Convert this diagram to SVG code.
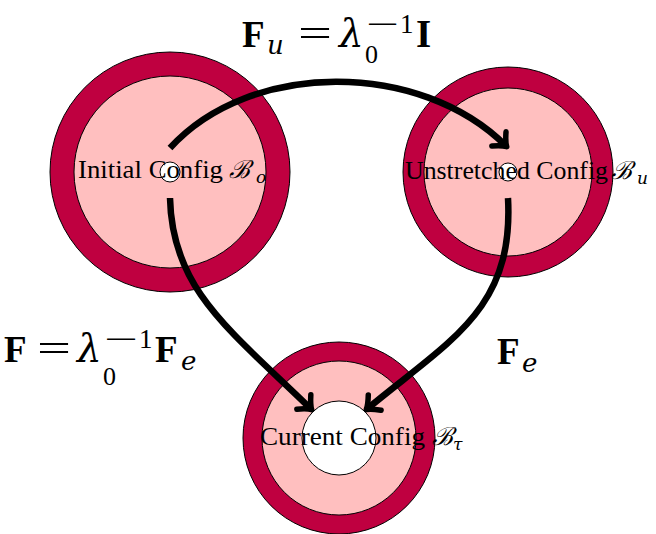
<svg xmlns="http://www.w3.org/2000/svg" width="656" height="534" viewBox="0 0 656 534">
<style>
.ring{fill:#BF0040;stroke:#000;stroke-width:1}
.disk{fill:#FFBFBF;stroke:#000;stroke-width:1}
.hole{fill:#fff;stroke:#000;stroke-width:1}
.lbl{font-family:"Liberation Serif",serif;font-size:25px;fill:#000}
.scr{font-family:"DejaVu Serif","Liberation Serif",serif;font-style:italic}
.m{font-family:"Liberation Serif",serif;font-size:39px;fill:#000}
.sup{font-family:"Liberation Serif",serif;font-size:27px;fill:#000}
.b{font-weight:bold}
.i{font-family:"DejaVu Serif","Liberation Serif",serif;font-style:italic}
.conn{fill:none;stroke:#000;stroke-width:6.5;marker-end:url(#arr)}
</style>
<defs>
<marker id="arr" markerUnits="userSpaceOnUse" viewBox="-14 -14 18 28" refX="0" refY="0" markerWidth="18" markerHeight="28" orient="auto" overflow="visible">
<path d="M-10,-10 Q-3,-2 1,0 Q-3,2 -10,10" fill="none" stroke="#000" stroke-width="5.5" stroke-linecap="round" stroke-linejoin="round"/>
</marker>
</defs>
<rect width="656" height="534" fill="#fff"/>
<g id="node-initial">
<circle class="ring" cx="170" cy="172" r="120"/>
<circle class="disk" cx="170" cy="172" r="96"/>
<circle class="hole" cx="170" cy="172" r="10"/>
<text class="lbl" x="78" y="178"><tspan textLength="145" lengthAdjust="spacingAndGlyphs">Initial Config</tspan><tspan class="scr" x="229" font-size="25">ℬ</tspan><tspan class="i" x="256" y="183" font-size="17">o</tspan></text>
</g>
<g id="node-unstretched">
<circle class="ring" cx="508" cy="172" r="105"/>
<circle class="disk" cx="508" cy="172" r="84"/>
<circle class="hole" cx="508" cy="172" r="9"/>
<text class="lbl" x="405" y="179"><tspan textLength="203" lengthAdjust="spacingAndGlyphs">Unstretched Config</tspan><tspan class="scr" x="611" font-size="25">ℬ</tspan><tspan class="i" x="637" y="184" font-size="17">u</tspan></text>
</g>
<g id="node-current">
<circle class="ring" cx="339" cy="438" r="96"/>
<circle class="disk" cx="339" cy="438" r="77"/>
<circle class="hole" cx="339" cy="438" r="37"/>
<text class="lbl" x="260" y="445"><tspan textLength="165" lengthAdjust="spacingAndGlyphs">Current Config</tspan><tspan class="scr" x="432" font-size="25">ℬ</tspan><tspan class="i" x="453" y="450" font-size="17">τ</tspan></text>
</g>
<g id="connectors">
<path class="conn" d="M170,148 C250,60 420,60 506,146"/>
<path class="conn" d="M170,198 C172,290 230,330 311,409"/>
<path class="conn" d="M508,198 C514,310 450,340 367,409"/>
</g>
<g id="label-Fu">
<text class="m" y="47"><tspan class="b" x="242" font-size="37">F</tspan><tspan class="i" x="267" y="54" font-size="26">u</tspan><tspan class="i" x="339" y="47">λ</tspan><tspan x="365" y="63" font-size="26">0</tspan><tspan class="b" x="416" y="47">I</tspan></text>
<text class="m" x="298" y="47" textLength="34" lengthAdjust="spacingAndGlyphs">=</text>
<text class="sup" x="366" y="33" textLength="33" lengthAdjust="spacingAndGlyphs">−</text>
<text class="sup" x="400" y="33">1</text>
</g>
<g id="label-F">
<text class="m" y="362"><tspan class="b" x="4" font-size="37">F</tspan><tspan class="i" x="77">λ</tspan><tspan x="103" y="385" font-size="26">0</tspan><tspan class="b" x="155" y="362" font-size="37">F</tspan><tspan class="i" x="181" y="370" font-size="26">e</tspan></text>
<text class="m" x="37" y="362" textLength="34" lengthAdjust="spacingAndGlyphs">=</text>
<text class="sup" x="104" y="348" textLength="34" lengthAdjust="spacingAndGlyphs">−</text>
<text class="sup" x="139" y="348">1</text>
</g>
<g id="label-Fe">
<text class="m" y="364"><tspan class="b" x="497" font-size="37">F</tspan><tspan class="i" x="522" y="372" font-size="26">e</tspan></text>
</g>
</svg>
